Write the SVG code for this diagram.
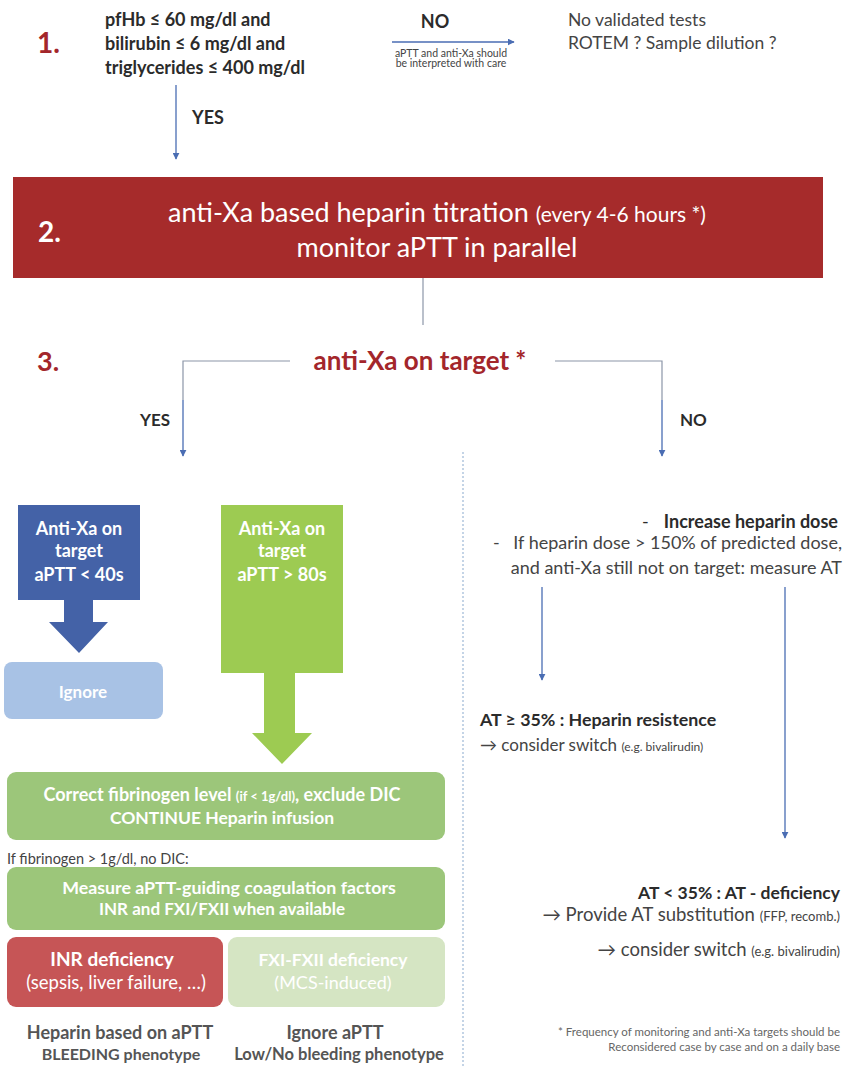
<svg xmlns="http://www.w3.org/2000/svg" width="856" height="1067" viewBox="0 0 856 1067">
<defs>
<style>
text{font-family:Lato,"Open Sans","Liberation Sans",sans-serif}
.b{font-weight:bold}
.dk{fill:#2b2b2b}
.gr{fill:#444}
.wh{fill:#fff}
.red{fill:#a3262b}
.ln{stroke:#4a6db3;stroke-width:1.3;fill:none}
.gl{stroke:#8c96a8;stroke-width:1.2;fill:none}
</style>
<marker id="ah" viewBox="0 0 10 10" refX="9" refY="5" markerWidth="7" markerHeight="7" markerUnits="userSpaceOnUse" orient="auto">
<path d="M0,0 L10,5 L0,10 z" fill="#4a6db3"/>
</marker>
</defs>
<rect width="856" height="1067" fill="#fff"/>

<g id="connectors">
<line class="ln" x1="176" y1="85" x2="176" y2="159" marker-end="url(#ah)"/>
<line class="ln" x1="392" y1="42" x2="514" y2="42" marker-end="url(#ah)"/>
<line class="gl" x1="423" y1="278" x2="423" y2="325"/>
<polyline class="gl" points="290,361 183,361 183,400"/>
<line class="ln" x1="183" y1="400" x2="183" y2="456" marker-end="url(#ah)"/>
<polyline class="gl" points="555,361 662,361 662,400"/>
<line class="ln" x1="662" y1="400" x2="662" y2="456" marker-end="url(#ah)"/>
<line x1="463" y1="452" x2="463" y2="1067" stroke="#9db8d6" stroke-width="1.2" stroke-dasharray="2,2"/>
<line class="ln" x1="542" y1="587" x2="542" y2="680" marker-end="url(#ah)"/>
<line class="ln" x1="785" y1="587" x2="785" y2="838" marker-end="url(#ah)"/>
</g>

<g id="step1">
<text x="37" y="53" class="b red" font-size="28">1.</text>
<text x="105" y="26" class="b dk" font-size="18">pfHb ≤ 60 mg/dl and</text>
<text x="105" y="50" class="b dk" font-size="18">bilirubin ≤ 6 mg/dl and</text>
<text x="105" y="74" class="b dk" font-size="18">triglycerides ≤ 400 mg/dl</text>
<text x="435" y="28" class="b dk" font-size="18" text-anchor="middle">NO</text>
<text x="451" y="57" class="gr" font-size="10.5" text-anchor="middle">aPTT and anti-Xa should</text>
<text x="451" y="67" class="gr" font-size="10.5" text-anchor="middle">be interpreted with care</text>
<text x="568" y="26" class="gr" font-size="17.5">No validated tests</text>
<text x="568" y="49" class="gr" font-size="17.5">ROTEM ? Sample dilution ?</text>
<text x="192" y="124" class="b dk" font-size="18">YES</text>
</g>

<g id="step2">
<rect x="13" y="177" width="810" height="101" fill="#a62b2b"/>
<text x="38" y="242" class="b wh" font-size="28">2.</text>
<text x="437" y="222" class="wh" font-size="27" text-anchor="middle">anti-Xa based heparin titration <tspan font-size="21">(every 4-6 hours *)</tspan></text>
<text x="437" y="257" class="wh" font-size="27" text-anchor="middle">monitor aPTT in parallel</text>
</g>

<g id="step3">
<text x="37" y="371" class="b red" font-size="27">3.</text>
<text x="420" y="370" class="b red" font-size="26" text-anchor="middle">anti-Xa on target *</text>
<text x="140" y="426" class="b dk" font-size="17">YES</text>
<text x="680" y="426" class="b dk" font-size="17">NO</text>
</g>

<g id="low-aptt">
<rect x="18" y="505" width="122" height="95" fill="#4462a7"/>
<text x="79" y="535" class="b wh" font-size="18" text-anchor="middle">Anti-Xa on</text>
<text x="79" y="557" class="b wh" font-size="18" text-anchor="middle">target</text>
<text x="79" y="581" class="b wh" font-size="18" text-anchor="middle">aPTT &lt; 40s</text>
<polygon points="64,600 93,600 93,622 108,622 79,653 49,622 64,622" fill="#4462a7"/>
</g>

<g id="ignore">
<rect x="4" y="662" width="159" height="57" rx="8" fill="#a8c2e5"/>
<text x="83" y="698" class="b wh" font-size="17" text-anchor="middle">Ignore</text>
</g>

<g id="high-aptt">
<rect x="221" y="505" width="122" height="168" fill="#9dcb52"/>
<text x="282" y="535" class="b wh" font-size="18" text-anchor="middle">Anti-Xa on</text>
<text x="282" y="557" class="b wh" font-size="18" text-anchor="middle">target</text>
<text x="282" y="581" class="b wh" font-size="18" text-anchor="middle">aPTT &gt; 80s</text>
<polygon points="264,673 295,673 295,733 312,733 282,764 252,733 264,733" fill="#9dcb52"/>
</g>

<g id="fibrinogen">
<rect x="7" y="772" width="438" height="68" rx="9" fill="#9cc67a"/>
<text x="222" y="801" class="b wh" font-size="18" text-anchor="middle">Correct fibrinogen level <tspan font-size="13">(if &lt; 1g/dl)</tspan>, exclude DIC</text>
<text x="222" y="824" class="b wh" font-size="17.5" text-anchor="middle">CONTINUE Heparin infusion</text>
</g>

<text x="7" y="864" class="gr" font-size="14.5">If fibrinogen &gt; 1g/dl, no DIC:</text>

<g id="measure">
<rect x="7" y="867" width="438" height="63" rx="9" fill="#9cc67a"/>
<text x="229" y="894" class="b wh" font-size="17.8" text-anchor="middle">Measure aPTT-guiding coagulation factors</text>
<text x="222" y="915" class="b wh" font-size="17" text-anchor="middle">INR and FXI/FXII when available</text>
</g>

<g id="inr">
<rect x="7" y="937" width="216" height="70" rx="9" fill="#c65556"/>
<text x="112" y="966" class="b wh" font-size="19" text-anchor="middle">INR deficiency</text>
<text x="116" y="989" class="wh" font-size="18.5" text-anchor="middle">(sepsis, liver failure, …)</text>
</g>

<g id="fxi">
<rect x="228" y="937" width="217" height="70" rx="9" fill="#d5e5c3"/>
<text x="333" y="966" class="b wh" font-size="17.5" text-anchor="middle">FXI-FXII deficiency</text>
<text x="333" y="989" class="wh" font-size="18" text-anchor="middle">(MCS-induced)</text>
</g>

<g id="outcomes">
<text x="120" y="1039" class="b" fill="#555" font-size="18" text-anchor="middle">Heparin based on aPTT</text>
<text x="121" y="1060" class="b" fill="#555" font-size="16" text-anchor="middle">BLEEDING phenotype</text>
<text x="335" y="1039" class="b" fill="#555" font-size="18" text-anchor="middle">Ignore aPTT</text>
<text x="339" y="1060" class="b" fill="#555" font-size="16.5" text-anchor="middle">Low/No bleeding phenotype</text>
</g>

<g id="increase">
<text x="642" y="528" class="dk" font-size="18">-</text>
<text x="838" y="528" class="b dk" font-size="18" text-anchor="end">Increase heparin dose</text>
<text x="493" y="549" class="gr" font-size="18">-</text>
<text x="842" y="549" class="gr" font-size="18" text-anchor="end">If heparin dose &gt; 150% of predicted dose,</text>
<text x="842" y="574" class="gr" font-size="18" text-anchor="end">and anti-Xa still not on target: measure AT</text>
</g>

<g id="resistance">
<text x="480" y="726" class="b dk" font-size="17.8">AT ≥ 35% : Heparin resistence</text>
<text x="480" y="751" class="gr" font-size="17">→ consider switch <tspan font-size="12">(e.g. bivalirudin)</tspan></text>
</g>

<g id="deficiency">
<text x="840" y="899" class="b dk" font-size="17.5" text-anchor="end">AT &lt; 35% : AT - deficiency</text>
<text x="840" y="921" class="gr" font-size="18.5" text-anchor="end">→ Provide AT substitution <tspan font-size="13">(FFP, recomb.)</tspan></text>
<text x="840" y="956" class="gr" font-size="18.5" text-anchor="end">→ consider switch <tspan font-size="13">(e.g. bivalirudin)</tspan></text>
</g>

<g id="footnote">
<text x="840" y="1036" fill="#666" font-size="11.5" text-anchor="end">* Frequency of monitoring and anti-Xa targets should be</text>
<text x="840" y="1051" fill="#666" font-size="11.5" text-anchor="end">Reconsidered case by case and on a daily base</text>
</g>
</svg>
